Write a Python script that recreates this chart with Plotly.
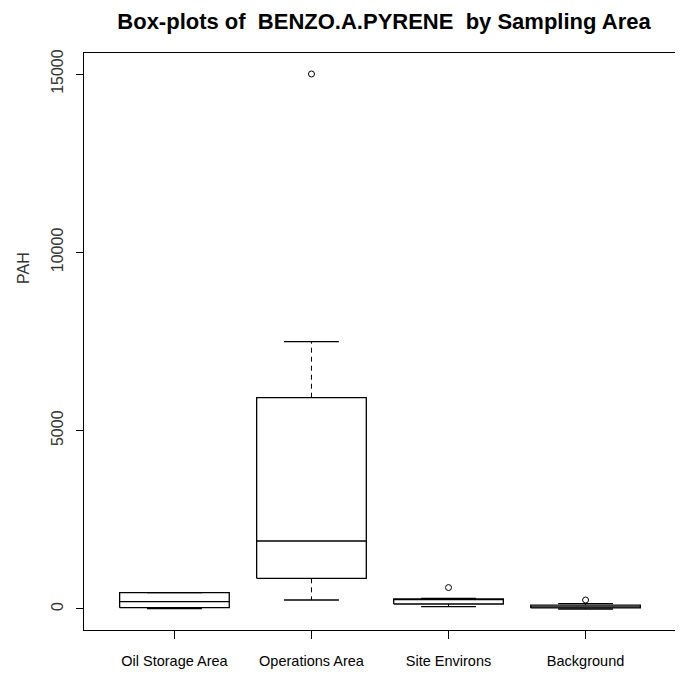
import plotly.graph_objects as go

categories = ["Oil Storage Area", "Operations Area", "Site Environs", "Background"]
lower_whisker = [8, 252, 65, 0]
q1 = [37, 860, 140, 30]
median = [205, 1906, 262, 60]
q3 = [457, 5924, 280, 110]
upper_whisker = [457, 7494, 300, 150]
outlier_group = ["Operations Area", "Site Environs", "Background"]
outlier_values = [15000, 600, 252]

y_ticks = [0, 5000, 10000, 15000]

BOX_HALF = 0.4
CAP_HALF = 0.2

box_x, box_y = [], []
med_x, med_y = [], []
wh_x, wh_y = [], []
cap_x, cap_y = [], []
for i, cat in enumerate(categories):
    c = i + 1
    box_x += [c - BOX_HALF, c + BOX_HALF, c + BOX_HALF, c - BOX_HALF, c - BOX_HALF, None]
    box_y += [q1[i], q1[i], q3[i], q3[i], q1[i], None]
    med_x += [c - BOX_HALF, c + BOX_HALF, None]
    med_y += [median[i], median[i], None]
    wh_x += [c, c, None, c, c, None]
    wh_y += [q3[i], upper_whisker[i], None, q1[i], lower_whisker[i], None]
    cap_x += [c - CAP_HALF, c + CAP_HALF, None, c - CAP_HALF, c + CAP_HALF, None]
    cap_y += [upper_whisker[i], upper_whisker[i], None, lower_whisker[i], lower_whisker[i], None]

out_x = [categories.index(g) + 1 for g in outlier_group]

fig = go.Figure()
line_col = "#000000"
fig.add_trace(go.Scatter(x=wh_x, y=wh_y, mode="lines",
                         line=dict(color=line_col, width=1, dash="5px,4px"),
                         hoverinfo="skip", showlegend=False))
fig.add_trace(go.Scatter(x=cap_x, y=cap_y, mode="lines",
                         line=dict(color=line_col, width=1.3),
                         hoverinfo="skip", showlegend=False))
fig.add_trace(go.Scatter(x=box_x, y=box_y, mode="lines",
                         line=dict(color=line_col, width=1.3),
                         hoverinfo="skip", showlegend=False))
fig.add_trace(go.Scatter(x=med_x, y=med_y, mode="lines",
                         line=dict(color=line_col, width=1.3),
                         hoverinfo="skip", showlegend=False))
fig.add_trace(go.Scatter(x=out_x, y=outlier_values, mode="markers",
                         marker=dict(symbol="circle-open", size=6,
                                     color=line_col, line=dict(width=1)),
                         hoverinfo="skip", showlegend=False))

font_family = "Liberation Sans, Arial, sans-serif"

fig.update_layout(
    width=683, height=675,
    margin=dict(l=76, r=15, t=45, b=53),
    paper_bgcolor="white", plot_bgcolor="white",
    font=dict(family=font_family, size=14, color="black"),
    title=dict(text="<b>Box-plots of  BENZO.A.PYRENE  by Sampling Area</b>",
               x=(376 - 76) / 592, xanchor="center", y=1 - 13 / 675, yanchor="middle",
               xref="paper",
               font=dict(family=font_family, size=22, color="black")),
    showlegend=False,
)
fig.update_xaxes(
    range=[0.34, 4.66], tickvals=[1, 2, 3, 4], ticktext=categories,
    showgrid=False, zeroline=False, showline=True, mirror=True,
    linecolor="black", linewidth=1, ticks="outside", ticklen=8,
    tickcolor="black", tickfont=dict(size=14.5), ticklabelstandoff=10,
)
fig.update_yaxes(
    range=[-589, 15589], tickvals=y_ticks, ticktext=[str(v) for v in y_ticks],
    showgrid=False, zeroline=False, showline=True, mirror=True,
    linecolor="black", linewidth=1, ticks="outside", ticklen=7,
    tickcolor="black", tickangle=-90, tickfont=dict(size=16, color="#333333"),
    ticklabelstandoff=7,
)
fig.add_annotation(text="PAH", xref="paper", yref="paper",
                   x=(23 - 84) / 592, y=(630 - 268) / 577,
                   textangle=-90, showarrow=False,
                   font=dict(size=16, color="#333333"),
                   xanchor="center", yanchor="middle")

fig.write_html("out.html")
